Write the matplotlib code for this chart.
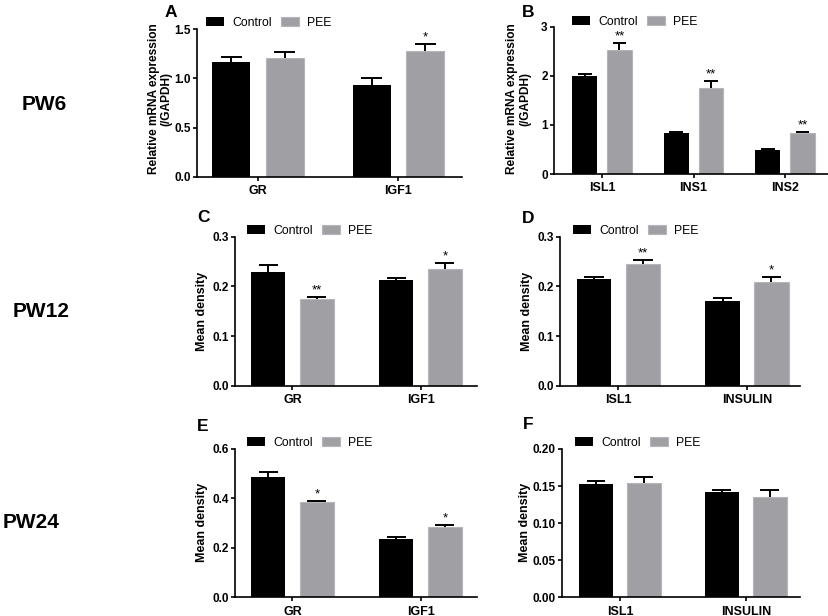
import matplotlib
matplotlib.use("Agg")
import matplotlib.pyplot as plt
import numpy as np

plt.rcParams['font.family'] = ['Liberation Sans', 'DejaVu Sans']

# panel data: genes, control mean/sem, PEE mean/sem, significance marks on PEE
a_genes = ["GR", "IGF1"]
a_ctrl = [1.164, 0.93]
a_ctrl_sem = [0.051, 0.07]
a_pee = [1.211, 1.282]
a_pee_sem = [0.06, 0.065]
a_sig = ["", "*"]

b_genes = ["ISL1", "INS1", "INS2"]
b_ctrl = [2.0, 0.83, 0.49]
b_ctrl_sem = [0.04, 0.02, 0.015]
b_pee = [2.53, 1.75, 0.83]
b_pee_sem = [0.13, 0.14, 0.02]
b_sig = ["**", "**", "**"]

c_genes = ["GR", "IGF1"]
c_ctrl = [0.2295, 0.213]
c_ctrl_sem = [0.0135, 0.0045]
c_pee = [0.1745, 0.235]
c_pee_sem = [0.0035, 0.0115]
c_sig = ["**", "*"]

d_genes = ["ISL1", "INSULIN"]
d_ctrl = [0.214, 0.171]
d_ctrl_sem = [0.004, 0.0056]
d_pee = [0.2444, 0.208]
d_pee_sem = [0.008, 0.0115]
d_sig = ["**", "*"]

e_genes = ["GR", "IGF1"]
e_ctrl = [0.488, 0.2347]
e_ctrl_sem = [0.02, 0.008]
e_pee = [0.384, 0.2857]
e_pee_sem = [0.004, 0.007]
e_sig = ["*", "*"]

f_genes = ["ISL1", "INSULIN"]
f_ctrl = [0.1528, 0.1424]
f_ctrl_sem = [0.0045, 0.0023]
f_pee = [0.1546, 0.1349]
f_pee_sem = [0.0072, 0.0098]
f_sig = ["", ""]

W, H = 829, 616
BLACK = "#000000"
GREY = "#a0a0a4"

fig = plt.figure(figsize=(W / 100, H / 100), dpi=100)


def add_axes(left, right, top, bottom):
    return fig.add_axes([left / W, 1 - bottom / H, (right - left) / W, (bottom - top) / H])


def panel(ax, genes, ctrl, ctrl_sem, pee, pee_sem, sig, xlim, yticks, yfmt,
          letter, letter_xy, ylabel, ylabel_xy, legend_xy, ylabel_size=9):
    x = np.arange(len(genes))
    w = 0.27
    off = 0.19
    cap = 0.075
    ax.bar(x - off, ctrl, w, color=BLACK, label="Control", zorder=2)
    ax.bar(x + off, pee, w, color=GREY, edgecolor="#b6b6ba", linewidth=0.8,
           label="PEE", zorder=2)
    for xs, m, s in [(x - off, ctrl, ctrl_sem), (x + off, pee, pee_sem)]:
        m = np.array(m)
        s = np.array(s)
        ax.vlines(xs, m, m + s, color="black", linewidth=1.4, zorder=3)
        ax.hlines(m + s, xs - cap, xs + cap, color="black", linewidth=1.4, zorder=3)
    for xi, m, s, t in zip(x + off, pee, pee_sem, sig):
        if t:
            ax.annotate(t, (xi, m + s), xytext=(0, 2.5), textcoords="offset points",
                        ha="center", va="baseline", fontsize=9.5)
    ax.set_xlim(*xlim)
    ax.set_ylim(yticks[0], yticks[-1])
    ax.set_yticks(yticks)
    ax.set_yticklabels([yfmt.format(v) for v in yticks])
    ax.set_xticks(x)
    ax.set_xticklabels(genes)
    for s in ["top", "right"]:
        ax.spines[s].set_visible(False)
    for s in ["left", "bottom"]:
        ax.spines[s].set_linewidth(1.2)
    ax.tick_params(axis="y", length=3, width=1.2, pad=1.5, labelsize=8.5)
    ax.tick_params(axis="x", length=3, width=1.2, pad=3, labelsize=9)
    for lab in ax.get_xticklabels() + ax.get_yticklabels():
        lab.set_fontweight("bold")
    ax.set_ylabel(ylabel, fontsize=ylabel_size, fontweight="bold", ha="center",
                  va="center", multialignment="center", linespacing=1.1)
    ax.yaxis.set_label_coords(ylabel_xy[0] / W, 1 - ylabel_xy[1] / H,
                              transform=fig.transFigure)
    fig.text(letter_xy[0] / W, 1 - letter_xy[1] / H, letter, fontsize=12.5,
             fontweight="bold", ha="left", va="baseline")
    ax.legend(loc="center left", bbox_to_anchor=(legend_xy[0] / W, 1 - legend_xy[1] / H),
              bbox_transform=fig.transFigure, ncol=2, frameon=False, fontsize=8.8,
              borderpad=0, borderaxespad=0, handlelength=1.5, handleheight=0.75,
              handletextpad=0.65, columnspacing=0.75)


ax_a = add_axes(197, 462, 29.3, 176.7)
panel(ax_a, a_genes, a_ctrl, a_ctrl_sem, a_pee, a_pee_sem, a_sig,
      (-0.434, 1.452), [0, 0.5, 1.0, 1.5], "{:.1f}", "A", (165, 17),
      "Relative mRNA expression\n(/GAPDH)", (160, 99), (206, 22.5), ylabel_size=8.6)

ax_b = add_axes(554, 829, 26.7, 174)
panel(ax_b, b_genes, b_ctrl, b_ctrl_sem, b_pee, b_pee_sem, b_sig,
      (-0.525, 2.48), [0, 1, 2, 3], "{:d}", "B", (522, 17),
      "Relative mRNA expression\n(/GAPDH)", (518.5, 99), (572, 22), ylabel_size=8.6)

ax_c = add_axes(235, 477, 236.7, 385.7)
panel(ax_c, c_genes, c_ctrl, c_ctrl_sem, c_pee, c_pee_sem, c_sig,
      (-0.449, 1.441), [0.0, 0.1, 0.2, 0.3], "{:.1f}", "C", (197, 222),
      "Mean density", (202, 311), (247, 231))

ax_d = add_axes(560, 800, 236.7, 385.7)
panel(ax_d, d_genes, d_ctrl, d_ctrl_sem, d_pee, d_pee_sem, d_sig,
      (-0.455, 1.412), [0.0, 0.1, 0.2, 0.3], "{:.1f}", "D", (522, 223),
      "Mean density", (527, 311), (573, 231))

ax_e = add_axes(235, 477, 449, 597.3)
panel(ax_e, e_genes, e_ctrl, e_ctrl_sem, e_pee, e_pee_sem, e_sig,
      (-0.449, 1.441), [0.0, 0.2, 0.4, 0.6], "{:.1f}", "E", (197, 431),
      "Mean density", (202, 522), (247, 442.5))

ax_f = add_axes(562, 800, 449, 597.3)
panel(ax_f, f_genes, f_ctrl, f_ctrl_sem, f_pee, f_pee_sem, f_sig,
      (-0.46, 1.43), [0.0, 0.05, 0.10, 0.15, 0.20], "{:.2f}", "F", (523, 429),
      "Mean density", (525, 522), (575, 442.5))

# row labels
for txt, xl, yc in [("PW6", 22, 104.5), ("PW12", 13, 312), ("PW24", 3, 522)]:
    fig.text(xl / W, 1 - yc / H, txt, fontsize=15, fontweight="bold",
             ha="left", va="center")

fig.savefig("out.png", dpi=100)
